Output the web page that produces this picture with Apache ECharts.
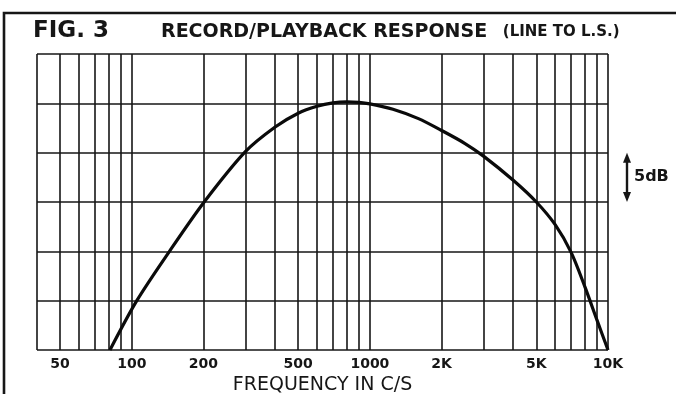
<!DOCTYPE html>
<html>
<head>
<meta charset="utf-8">
<script src="https://cdn.jsdelivr.net/npm/echarts@6.0.0/dist/echarts.min.js"></script>
<style>
  html, body { margin: 0; padding: 0; background: #fff; }
  #chart { width: 676px; height: 394px; }
</style>
</head>
<body>
<div id="chart"></div>
<script>
// Frequency (c/s) and relative level (dB) of the record/playback response curve
const freq  = [81, 105, 144, 200, 300, 400, 500, 600, 700, 800, 900, 1000,
               1250, 1600, 2000, 2500, 3000, 4000, 5000, 6000, 7000, 8000, 9000, 10000];
const level = [-25, -20, -15, -10.1, -4.9, -2.4, -1.0, -0.3, 0.05, 0.15, 0.1, -0.05,
               -0.6, -1.55, -2.75, -4.05, -5.35, -7.8, -10.0, -12.3, -15.1, -18.6, -22.0, -25];

// Vertical rulings of the log paper and the labelled frequencies
const gridFreqs  = [40, 50, 60, 70, 80, 90, 100, 200, 300, 400, 500, 600, 700, 800, 900,
                    1000, 2000, 3000, 4000, 5000, 6000, 7000, 8000, 9000, 10000];
const tickFreqs  = [50, 100, 200, 500, 1000, 2000, 5000, 10000];
const tickLabels = ['50', '100', '200', '500', '1000', '2K', '5K', '10K'];

const ink = '#161616';
const chart = echarts.init(document.getElementById('chart'), null, { renderer: 'canvas' });

const rulings = gridFreqs.map(function (f) {
  const i = tickFreqs.indexOf(f);
  return {
    xAxis: f,
    label: i >= 0 ? { show: true, formatter: tickLabels[i] } : { show: false }
  };
});

chart.setOption({
  animation: false,
  backgroundColor: '#ffffff',
  title: [
    {
      text: 'FIG. 3',
      left: 33, top: 19, padding: 0,
      textStyle: { fontFamily: 'DejaVu Sans', fontWeight: 'bold', fontSize: 23, lineHeight: 24, color: ink }
    },
    {
      text: '{a|RECORD/PLAYBACK RESPONSE}{b|   (LINE TO L.S.)}',
      left: 161, top: 21, padding: 0,
      textStyle: {
        rich: {
          a: { fontFamily: 'DejaVu Sans', fontSize: 19, lineHeight: 22, color: ink },
          b: { fontFamily: 'DejaVu Sans', fontSize: 15, lineHeight: 22, color: ink }
        }
      }
    }
  ],
  grid: { left: 37, right: 68, top: 54, bottom: 44, containLabel: false, outerBoundsMode: 'none' },
  xAxis: {
    type: 'log',
    logBase: 10,
    min: 40,
    max: 10000,
    name: 'FREQUENCY IN C/S',
    nameLocation: 'middle',
    nameGap: 26,
    nameTextStyle: { fontFamily: 'DejaVu Sans', fontSize: 19, lineHeight: 19, color: ink },
    axisLine: { show: false },
    axisTick: { show: false },
    axisLabel: { show: false },
    splitLine: { show: false },
    minorSplitLine: { show: false }
  },
  yAxis: {
    type: 'value',
    min: -25,
    max: 5,
    interval: 5,
    axisLine: { show: false },
    axisTick: { show: false },
    axisLabel: { show: false },
    splitLine: { show: true, lineStyle: { color: ink, width: 1.6 } }
  },
  series: [
    {
      type: 'line',
      data: freq.map(function (f, i) { return [f, level[i]]; }),
      smooth: 0.3,
      showSymbol: false,
      clip: false,
      lineStyle: { color: '#0a0a0a', width: 3.2 },
      z: 5,
      markLine: {
        silent: true,
        symbol: 'none',
        animation: false,
        lineStyle: { color: ink, width: 1.6, type: 'solid' },
        label: {
          position: 'start',
          distance: 7,
          fontFamily: 'DejaVu Sans',
          fontWeight: 'bold',
          fontSize: 14,
          color: ink
        },
        emphasis: { disabled: true },
        data: rulings
      }
    }
  ]
});

// Outer frame, the 5 dB scale arrow and its caption
function drawAnnotations() {
  const xRight = chart.convertToPixel({ xAxisIndex: 0 }, 10000);
  const yA = chart.convertToPixel({ yAxisIndex: 0 }, -5);
  const yB = chart.convertToPixel({ yAxisIndex: 0 }, -10);
  const ax = xRight + 19;
  chart.setOption({
    graphic: [
      {
        type: 'rect', silent: true,
        shape: { x: 4, y: 13, width: 720, height: 420 },
        style: { fill: 'none', stroke: ink, lineWidth: 2.6 }
      },
      {
        type: 'line', silent: true,
        shape: { x1: ax, y1: yA + 8, x2: ax, y2: yB - 8 },
        style: { stroke: ink, lineWidth: 2.4 }
      },
      {
        type: 'polygon', silent: true,
        shape: { points: [[ax, yA], [ax - 4, yA + 10], [ax + 4, yA + 10]] },
        style: { fill: ink }
      },
      {
        type: 'polygon', silent: true,
        shape: { points: [[ax, yB], [ax - 4, yB - 10], [ax + 4, yB - 10]] },
        style: { fill: ink }
      },
      {
        type: 'text', silent: true,
        x: ax + 7, y: (yA + yB) / 2,
        style: {
          text: '5dB', fill: ink,
          font: 'bold 16px "DejaVu Sans"',
          textVerticalAlign: 'middle', textAlign: 'left'
        }
      }
    ]
  });
}
drawAnnotations();
</script>
</body>
</html>
